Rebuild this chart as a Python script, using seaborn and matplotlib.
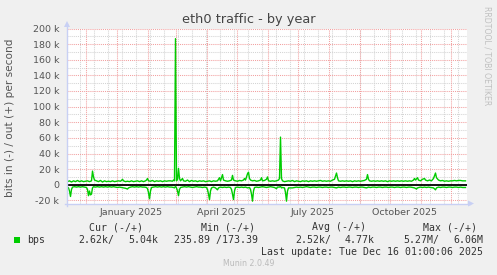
import matplotlib
matplotlib.use("Agg")
import matplotlib.pyplot as plt
from matplotlib.lines import Line2D
from matplotlib.patches import Polygon, Rectangle
import seaborn as sns
import pandas as pd
import numpy as np

# ---------------- data ----------------
title = "eth0 traffic - by year"
ylabel = "bits in (-) / out (+) per second"
data_start = "2024-11-13"

out_days = [0, 2, 4, 6, 8, 10, 12, 14, 16, 18, 20, 22, 24, 25, 26, 27, 29, 31, 33, 35, 37, 39, 41, 43, 45, 47,
            49, 51, 53, 54, 55, 56, 58, 60, 62, 64, 66, 68, 70, 72, 74, 76, 78, 79, 80, 81, 83, 85, 87, 89,
            91, 93, 95, 97, 99, 101, 103, 105, 106, 107, 108, 109, 110, 111, 112, 113, 115, 116, 118, 120,
            122, 124, 126, 128, 130, 132, 134, 136, 138, 140, 142, 144, 146, 148, 150, 152, 153, 155, 156,
            158, 160, 162, 164, 165, 166, 168, 170, 172, 174, 176, 177, 178, 180, 181, 182, 183, 185, 187,
            189, 191, 193, 194, 195, 197, 199, 200, 201, 203, 205, 207, 209, 211, 212, 213, 214, 215, 217,
            219, 221, 223, 225, 227, 229, 231, 233, 235, 237, 239, 241, 243, 245, 247, 249, 251, 253, 255,
            257, 259, 261, 263, 265, 267, 269, 270, 271, 273, 275, 277, 279, 281, 283, 285, 287, 289, 291,
            293, 295, 297, 299, 300, 301, 302, 304, 306, 308, 310, 312, 314, 316, 318, 320, 322, 324, 326,
            328, 330, 332, 334, 336, 338, 340, 342, 344, 346, 347, 348, 350, 351, 353, 355, 357, 358, 360,
            362, 364, 366, 368, 369, 371, 373, 375, 377, 379, 381, 383, 385, 387, 389, 391, 393, 395, 397, 398]
out_kbps = [4, 5, 3.5, 5, 4, 5.5, 4, 5, 4, 4.5, 5, 4, 5, 17.5, 10, 6, 5, 4, 5.5, 3.5, 5, 4, 4.5, 4, 5, 4,
            4.5, 5, 4.5, 5.5, 7, 5, 4, 4.5, 4, 5, 4, 4.5, 5, 4, 5, 4, 5, 6, 8, 5, 4.5, 5.5, 4, 5,
            4.5, 5, 4, 5, 4.5, 5, 5, 4.5, 6, 5, 187, 5, 7, 21, 8, 5, 8, 5, 4.5, 6,
            4, 5.5, 4.5, 5, 4, 5, 4.5, 5, 4, 4.5, 5, 4, 5, 4.5, 5, 9, 5, 13, 6,
            5, 4.5, 5, 6, 12, 6, 5, 4.5, 5.5, 5, 6, 8, 6, 14, 16, 8, 6, 5, 5.5,
            4.5, 5, 6, 9, 5, 5.5, 7, 10, 5, 4.5, 5, 4.5, 5, 6, 8, 61, 8, 5, 4,
            4.5, 5, 4.5, 5.5, 4, 5, 4.5, 4, 5, 4.5, 5, 4, 5, 4.5, 5, 4.5, 5, 5.5, 4.5,
            5, 4.5, 5, 4.5, 6, 7, 15, 9, 5, 4.5, 5, 4.5, 5, 4.5, 5, 4, 5, 4.5, 5,
            4.5, 5, 5.5, 7, 13, 7, 5, 4.5, 5, 4.5, 5, 4.5, 5, 4.5, 5, 4, 5, 4.5, 5,
            4.5, 5, 4.5, 5, 4.5, 5, 4.5, 5, 4.5, 6, 8, 6, 9, 6, 5, 7, 8, 6, 5,
            6, 5, 8, 15, 9, 6, 5, 5.5, 4.5, 5, 4.5, 5, 5, 5.5, 5, 5.5, 5.5, 5, 5, 5]

in_days = [0, 1, 2, 3, 4, 5, 7, 9, 11, 13, 15, 17, 19, 20, 21, 22, 23, 24, 25, 26, 28, 30, 32, 34, 36, 38,
           40, 42, 44, 46, 48, 50, 52, 54, 56, 58, 60, 61, 63, 65, 67, 69, 71, 73, 75, 77, 79, 80, 81, 82,
           83, 84, 86, 88, 90, 92, 94, 96, 98, 100, 102, 104, 106, 107, 108, 109, 110, 111, 112, 113, 115,
           117, 119, 121, 123, 125, 127, 129, 131, 133, 135, 137, 139, 140, 141, 142, 143, 144, 146, 148,
           150, 151, 153, 155, 157, 159, 161, 163, 164, 165, 166, 167, 168, 170, 172, 174, 176, 178, 180,
           182, 183, 184, 185, 186, 187, 189, 191, 193, 195, 197, 199, 201, 203, 205, 207, 209, 210, 212,
           213, 214, 215, 217, 218, 219, 220, 221, 223, 225, 227, 229, 231, 233, 235, 237, 239, 241, 243,
           245, 247, 249, 251, 253, 255, 257, 259, 261, 263, 265, 267, 269, 271, 273, 275, 277, 279, 281,
           283, 285, 287, 289, 291, 293, 295, 297, 299, 301, 303, 305, 307, 309, 311, 313, 315, 317, 319,
           321, 323, 325, 327, 329, 331, 333, 335, 337, 339, 341, 343, 345, 347, 349, 350, 353, 355, 357,
           359, 361, 363, 366, 368, 369, 371, 373, 375, 377, 379, 381, 383, 385, 387, 389, 391, 393, 395, 398]
in_kbps = [-3, -4, -8, -15, -6, -3, -2.5, -3, -2.5, -3, -2.5, -3, -3.5, -6, -14, -8, -13, -12, -4, -2.5, -3, -2.5, -3, -2.5, -3, -2.5,
           -3, -2.5, -3, -2.5, -3, -3.5, -3, -3.5, -4, -4.5, -5.5, -4, -3, -2.5, -3, -2.5, -3, -2.5, -3, -3, -3.5, -5, -10, -18,
           -8, -3.5, -3, -2.5, -3, -2.5, -3, -2.5, -3, -2.5, -3, -3, -3.5, -4, -2, -4, -8, -14, -6, -3.5, -3,
           -2.5, -3, -2.5, -3, -3.5, -3, -2.5, -3, -3, -3.5, -3, -3.5, -6, -12, -19, -8, -4, -3, -4,
           -6.5, -4, -3, -3.5, -3, -3.5, -3, -3.5, -6, -12, -19, -8, -3.5, -3, -3.5, -3, -3.5, -3, -4,
           -3.5, -6, -12, -21, -8, -3.5, -3, -3.5, -3, -2.5, -3, -3.5, -3, -2.5, -3, -3.5, -5, -3, -3,
           -2, -4, -3.5, -4, -10, -21, -8, -4, -4, -4, -3.5, -3, -3.5, -3, -3.5, -3, -2.5, -3, -3.5,
           -3, -3, -3.5, -3, -3, -3.5, -3, -3, -3.5, -3, -3, -3.5, -4, -3, -3.5, -3, -3, -3.5, -3,
           -3, -3.5, -3, -3, -3.5, -3, -3, -3.5, -4, -3, -3.5, -3, -3, -3.5, -3, -3, -3.5, -3, -3,
           -3.5, -3, -3, -3.5, -3, -3, -3.5, -3, -3, -3.5, -3, -3, -3.5, -4, -5.5, -4, -3, -3.5, -3,
           -3.5, -3, -3.5, -4, -6.5, -4, -3, -3.5, -3, -3, -3.5, -3, -3, -3.5, -3, -3, -3.5, -3, -3.5, -3.5]

ytick_values = [-20, 0, 20, 40, 60, 80, 100, 120, 140, 160, 180, 200]
ytick_labels = ["-20 k", "0", "20 k", "40 k", "60 k", "80 k", "100 k", "120 k", "140 k", "160 k", "180 k", "200 k"]
xtick_dates = ["2025-01-16", "2025-04-16", "2025-07-16", "2025-10-16"]
xtick_labels = ["January 2025", "April 2025", "July 2025", "October 2025"]

legend_name = "bps"
legend_headers = ["Cur (-/+)", "Min (-/+)", "Avg (-/+)", "Max (-/+)"]
cur_vals = ["2.62k/", "5.04k"]
min_vals = "235.89 /173.39"
avg_vals = ["2.52k/", "4.77k"]
max_vals = ["5.27M/", "6.06M"]
last_update = "Last update: Tue Dec 16 01:00:06 2025"
version = "Munin 2.0.49"
watermark = "RRDTOOL / TOBI OETIKER"

# ---------------- figure ----------------
W, H = 497, 275
DPI = 100
fig = plt.figure(figsize=(W / DPI, H / DPI), dpi=DPI, facecolor="#F0F0F0")

def fx(x):
    return x / W

def fy(y):
    return 1 - y / H

ax_l, ax_r, ax_t, ax_b = 67, 467, 28.5, 203.5
ax = fig.add_axes([fx(ax_l), fy(ax_b), (ax_r - ax_l) / W, (ax_b - ax_t) / H])
ax.set_facecolor("white")

start = pd.Timestamp(data_start)
out_df = pd.DataFrame({"date": start + pd.to_timedelta(out_days, unit="D"),
                       "bps": np.array(out_kbps) * 1000.0})
in_df = pd.DataFrame({"date": start + pd.to_timedelta(in_days, unit="D"),
                      "bps": np.array(in_kbps) * 1000.0})

green = "#00CC00"
sns.lineplot(data=out_df, x="date", y="bps", ax=ax, color=green, lw=1.0, zorder=3)
sns.lineplot(data=in_df, x="date", y="bps", ax=ax, color=green, lw=1.0, zorder=3)

xmin = pd.Timestamp("2024-11-12 12:00")
xmax = xmin + pd.Timedelta(days=400)
ax.set_xlim(xmin, xmax)
ax.set_ylim(-24000, 200000)

# grid lines
red = "#F2A0A0"
gray = "#D4D4D4"
dot = (0, (1, 1))
for v in range(-20000, 200001, 10000):
    if v % 20000 == 0:
        ax.axhline(v, color=red, lw=0.75, ls=dot, zorder=1)
    else:
        ax.axhline(v, color=gray, lw=0.75, ls=dot, zorder=0.5)
for d in pd.date_range("2024-11-25", xmax, freq="14D"):
    ax.axvline(d, color=gray, lw=0.75, ls=dot, zorder=0.5)
for d in pd.date_range("2024-12-01", xmax, freq="MS"):
    ax.axvline(d, color=red, lw=0.75, ls=dot, zorder=1)

ax.axhline(0, color="black", lw=1.3, zorder=2)

for s in ax.spines.values():
    s.set_visible(False)

ax.set_yticks([v * 1000 for v in ytick_values])
ax.set_yticklabels(ytick_labels)
ax.set_xticks(pd.to_datetime(xtick_dates))
ax.set_xticklabels(xtick_labels)
ax.tick_params(axis="y", length=0, pad=5.5, labelsize=6.8, labelcolor="#555555")
ax.tick_params(axis="x", length=0, pad=3.2, labelsize=6.8, labelcolor="#555555")
ax.set_xlabel("")
ax.set_ylabel("")

# axes arrows
acol = "#C8D0F4"
fig.add_artist(Line2D([fx(ax_l), fx(ax_l)], [fy(ax_b + 2), fy(24)], color=acol, lw=1.0))
fig.add_artist(Polygon([[fx(ax_l - 3), fy(27)], [fx(ax_l + 3), fy(27)], [fx(ax_l), fy(21)]],
                       closed=True, color=acol, lw=0))
fig.add_artist(Line2D([fx(ax_l - 2), fx(470)], [fy(ax_b), fy(ax_b)], color=acol, lw=1.0))
fig.add_artist(Polygon([[fx(468), fy(ax_b - 3)], [fx(468), fy(ax_b + 3)], [fx(474), fy(ax_b)]],
                       closed=True, color=acol, lw=0))

# title, labels
fig.text(fx(248.5), fy(20), title, ha="center", va="center", fontsize=9.3, color="#444444")
fig.text(fx(10), fy(118), ylabel, ha="center", va="center", rotation=90, fontsize=7.6, color="#555555")
fig.text(fx(487), fy(56), watermark, ha="center", va="center", rotation=-90, fontsize=5.6, color="#C0C0C0")

# legend
mono = dict(family="DejaVu Sans Mono", fontsize=7.1, color="#333333", va="center", ha="left")
for xx, h in zip([89, 201, 312, 423], legend_headers):
    fig.text(fx(xx), fy(227.3), h, **mono)
fig.add_artist(Rectangle((fx(14), fy(243)), 6 / W, 6 / H, color=green, lw=0))
row_y = fy(240)
fig.text(fx(27), row_y, legend_name, **mono)
fig.text(fx(78), row_y, cur_vals[0], **mono)
fig.text(fx(128.3), row_y, cur_vals[1], **mono)
fig.text(fx(174), row_y, min_vals, **mono)
fig.text(fx(295), row_y, avg_vals[0], **mono)
fig.text(fx(345), row_y, avg_vals[1], **mono)
fig.text(fx(403), row_y, max_vals[0], **mono)
fig.text(fx(453.3), row_y, max_vals[1], **mono)
mono_r = dict(mono)
mono_r["ha"] = "right"
fig.text(fx(483), fy(251.7), last_update, **mono_r)
fig.text(fx(248.8), fy(263), version, ha="center", va="center", fontsize=5.7, color="#BBBBBB")

fig.savefig("out.png", dpi=DPI, facecolor=fig.get_facecolor())
